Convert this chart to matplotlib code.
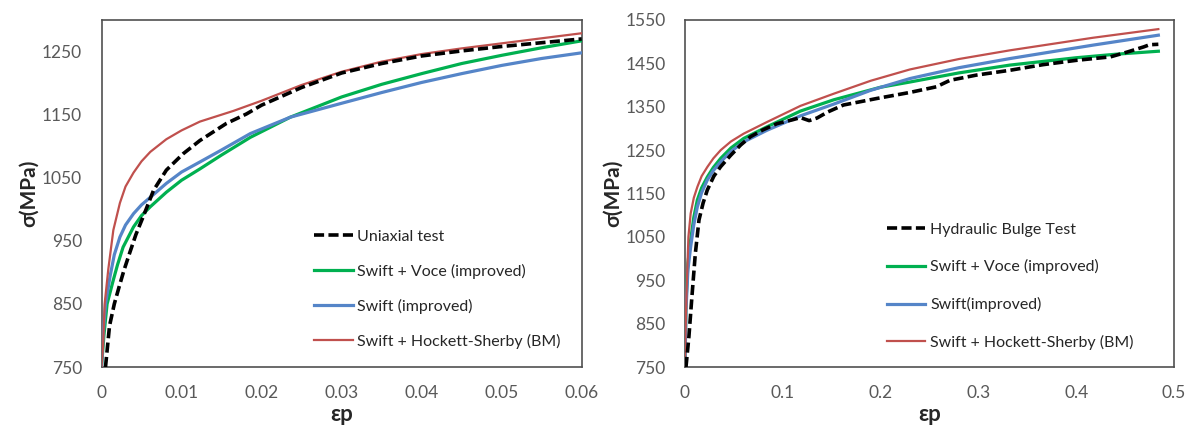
import matplotlib
matplotlib.use("Agg")
import matplotlib.pyplot as plt
import numpy as np
from matplotlib.ticker import MultipleLocator, FuncFormatter

plt.rcParams['font.family'] = ['Lato', 'DejaVu Sans']

# ---------------- Left panel data (uniaxial) ----------------
L_uni_eps = [0.0005, 0.001, 0.0016, 0.0022, 0.0028, 0.0035, 0.0043, 0.0052, 0.0065, 0.0081,
             0.0102, 0.0123, 0.0156, 0.0181, 0.02, 0.025, 0.03, 0.035, 0.04, 0.045,
             0.05, 0.055, 0.06]
L_uni_sig = [750, 815, 850, 877, 903, 930, 960, 988, 1030, 1062,
             1088, 1109, 1136, 1151, 1165, 1193, 1216, 1231, 1243, 1251,
             1258, 1264, 1270]

L_sv_eps = [0, 0.0003, 0.0007, 0.00148, 0.002, 0.0027, 0.004, 0.005, 0.0061, 0.0081,
            0.01, 0.0123, 0.015, 0.0186, 0.0236, 0.03, 0.035, 0.04, 0.045, 0.05,
            0.055, 0.06]
L_sv_sig = [750, 800, 850, 888, 912, 940, 972, 990, 1004, 1027,
            1046, 1064, 1086, 1114, 1146, 1178, 1198, 1215, 1231, 1244,
            1256, 1267]

L_sw_eps = [0, 0.0002, 0.0005, 0.00106, 0.0016, 0.0023, 0.003, 0.004, 0.005, 0.0061,
            0.0081, 0.01, 0.0123, 0.015, 0.0186, 0.0236, 0.03, 0.035, 0.04, 0.045,
            0.05, 0.055, 0.06]
L_sw_sig = [750, 800, 850, 893, 928, 956, 975, 993, 1007, 1019,
            1041, 1059, 1075, 1094, 1120, 1146, 1168, 1185, 1201, 1215,
            1228, 1239, 1248]

L_hs_eps = [0, 0.0002, 0.0004, 0.00085, 0.00148, 0.0023, 0.003, 0.004, 0.005, 0.0061,
            0.0081, 0.01, 0.0123, 0.0165, 0.02, 0.025, 0.03, 0.035, 0.04, 0.045,
            0.05, 0.055, 0.06]
L_hs_sig = [750, 785, 851, 905, 967, 1010, 1036, 1058, 1076, 1091,
            1111, 1125, 1139, 1156, 1172, 1197, 1218, 1234, 1246, 1255,
            1263, 1271, 1279]

# ---------------- Right panel data (bulge) ----------------
R_hb_eps = [0.001, 0.004, 0.007, 0.0105, 0.0143, 0.0185, 0.0228, 0.0295, 0.0365, 0.0467,
            0.057, 0.067, 0.08, 0.094, 0.11, 0.118, 0.127, 0.135, 0.146, 0.162,
            0.196, 0.23, 0.257, 0.271, 0.298, 0.332, 0.366, 0.4, 0.435, 0.452,
            0.469, 0.475, 0.484]
R_hb_sig = [750, 820, 910, 1010, 1089, 1128, 1158, 1190, 1212, 1238,
            1262, 1281, 1297, 1311, 1320, 1325, 1318, 1324, 1338, 1354,
            1369, 1383, 1396, 1411, 1423, 1434, 1447, 1457, 1465, 1476,
            1488, 1493, 1494]

R_sv_eps = [0, 0.001, 0.003, 0.0058, 0.009, 0.0126, 0.017, 0.0228, 0.029, 0.0365,
            0.047, 0.06, 0.084, 0.118, 0.152, 0.2, 0.23, 0.28, 0.332, 0.4,
            0.44, 0.484]
R_sv_sig = [750, 900, 990, 1043, 1095, 1135, 1163, 1188, 1210, 1231,
            1255, 1277, 1304, 1340, 1366, 1395, 1407, 1428, 1446, 1463,
            1471, 1478]

R_sw_eps = [0, 0.001, 0.003, 0.0058, 0.009, 0.0126, 0.017, 0.0228, 0.029, 0.0365,
            0.047, 0.06, 0.084, 0.118, 0.152, 0.19, 0.23, 0.28, 0.332, 0.417,
            0.484]
R_sw_sig = [750, 880, 975, 1027, 1078, 1119, 1152, 1181, 1203, 1223,
            1247, 1269, 1296, 1329, 1356, 1388, 1415, 1440, 1461, 1492,
            1515]

R_hs_eps = [0, 0.0005, 0.0017, 0.0035, 0.0058, 0.009, 0.0126, 0.017, 0.0228, 0.029,
            0.0365, 0.047, 0.06, 0.084, 0.118, 0.152, 0.19, 0.23, 0.28, 0.332,
            0.417, 0.484]
R_hs_sig = [750, 830, 930, 1050, 1104, 1140, 1165, 1190, 1211, 1231,
            1250, 1270, 1288, 1315, 1352, 1380, 1410, 1436, 1460, 1480,
            1509, 1529]

L_labels = ["Uniaxial test", "Swift + Voce (improved)", "Swift (improved)",
            "Swift + Hockett-Sherby (BM)"]
R_labels = ["Hydraulic Bulge Test", "Swift + Voce (improved)", "Swift(improved)",
            "Swift + Hockett-Sherby (BM)"]

C_BLACK = "#000000"
C_GREEN = "#00B050"
C_BLUE = "#5585C8"
C_RED = "#C0504D"
TICK_C = "#595959"
SPINE_C = "#505050"

fig = plt.figure(figsize=(11.94, 4.33), dpi=100)
axL = fig.add_axes([101.5 / 1194, 1 - 367 / 433, (581.7 - 101.5) / 1194, (367 - 20) / 433])
axR = fig.add_axes([685 / 1194, 1 - 367 / 433, (1174 - 685) / 1194, (367 - 20) / 433])


def draw(ax, data, labels, xlim, ylim, xstep, xfmt, legend_anchor, lspace):
    (e0, s0), (e1, s1), (e2, s2), (e3, s3) = data
    ax.plot(e0, s0, color=C_BLACK, lw=2.6, dashes=(2.8, 1.2), label=labels[0], zorder=5)
    ax.plot(e1, s1, color=C_GREEN, lw=2.3, label=labels[1], zorder=3)
    ax.plot(e2, s2, color=C_BLUE, lw=2.3, label=labels[2], zorder=3)
    ax.plot(e3, s3, color=C_RED, lw=1.6, label=labels[3], zorder=4)
    ax.set_xlim(*xlim)
    ax.set_ylim(*ylim)
    ax.xaxis.set_major_locator(MultipleLocator(xstep))
    ax.set_yticks(np.arange(ylim[0], ylim[1] + 1, 100))
    ax.xaxis.set_major_formatter(FuncFormatter(xfmt))
    ax.tick_params(length=0, labelsize=12.5, colors=TICK_C)
    ax.tick_params(axis='y', pad=14)
    ax.tick_params(axis='x', pad=13)
    for sp in ax.spines.values():
        sp.set_color(SPINE_C)
        sp.set_linewidth(1.2)
    ax.set_xlabel("εp", fontsize=16, fontweight='bold', color="#262626", labelpad=2)
    ax.set_ylabel("σ(MPa)", fontsize=15, fontweight='bold', color="#262626", labelpad=2)
    leg = ax.legend(loc='upper left', bbox_to_anchor=legend_anchor, frameon=False,
                    fontsize=11.5, handlelength=2.4, handletextpad=0.3,
                    labelspacing=lspace, borderaxespad=0)
    for t in leg.get_texts():
        t.set_color("#262626")


def fmt_left(v, pos):
    if abs(v) < 1e-12:
        return "0"
    return f"{v:.2f}"


def fmt_right(v, pos):
    if abs(v) < 1e-12:
        return "0"
    return f"{v:.1f}"


draw(axL, [(L_uni_eps, L_uni_sig), (L_sv_eps, L_sv_sig), (L_sw_eps, L_sw_sig), (L_hs_eps, L_hs_sig)],
     L_labels, (0, 0.06), (750, 1300), 0.01, fmt_left, (0.43, 0.415), 1.25)
draw(axR, [(R_hb_eps, R_hb_sig), (R_sv_eps, R_sv_sig), (R_sw_eps, R_sw_sig), (R_hs_eps, R_hs_sig)],
     R_labels, (0, 0.5), (750, 1550), 0.1, fmt_right, (0.40, 0.435), 1.42)

fig.savefig("out.png", dpi=100)
